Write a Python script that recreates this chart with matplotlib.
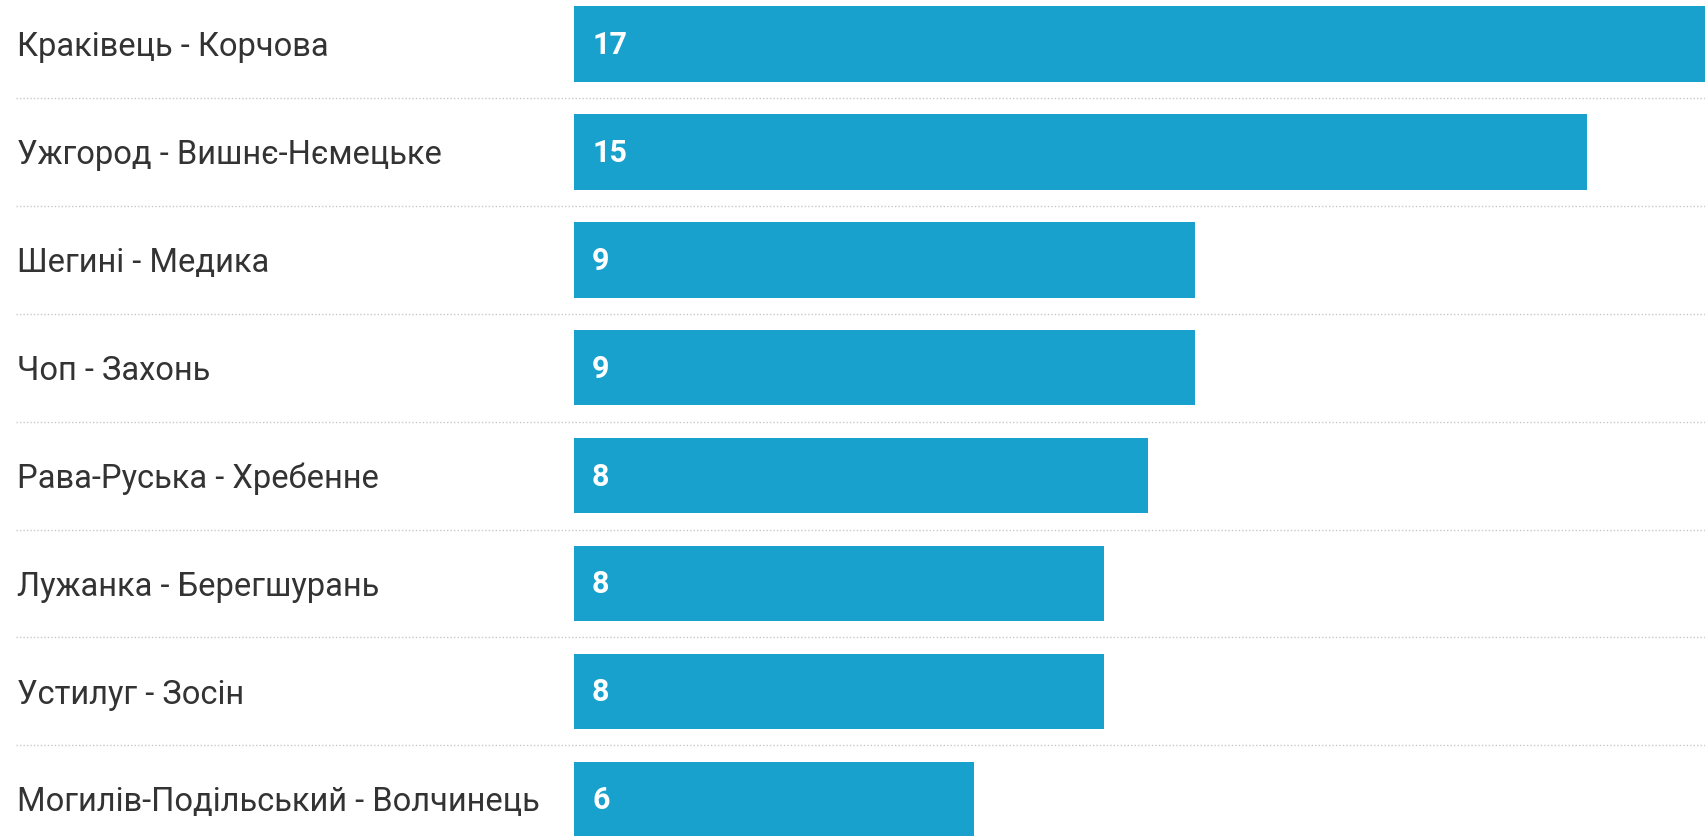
import matplotlib.pyplot as plt

# border crossings and their values (bar length, shown label)
crossings = [
    "Краківець - Корчова",
    "Ужгород - Вишнє-Нємецьке",
    "Шегині - Медика",
    "Чоп - Захонь",
    "Рава-Руська - Хребенне",
    "Лужанка - Берегшурань",
    "Устилуг - Зосін",
    "Могилів-Подільський - Волчинець",
]
values = [17.0, 15.0, 9.2, 9.2, 8.5, 7.85, 7.85, 5.93]
value_labels = ["17", "15", "9", "9", "8", "8", "8", "6"]

bar_color = "#19a1cd"
text_color = "#333333"

plt.rcParams['font.family'] = ['Roboto', 'DejaVu Sans']

fig = plt.figure(figsize=(17.06, 8.37), dpi=100)
# axes start where the bars start (x=574 px), run to the right edge
ax = fig.add_axes([574 / 1706, 0, 1 - 574 / 1706, 1])

rows = list(range(len(crossings)))
ax.barh(rows, values, height=0.70, color=bar_color, zorder=2)

# row pitch ~108 px, first bar centre at 45 px from top
pitch = 107.9
ax.set_ylim((837 - 45) / pitch, -45 / pitch)
ax.set_xlim(0, 1132 / 67.5)
ax.axis("off")

ytrans = ax.get_yaxis_transform()
x_label = (17 - 574) / 1132
x_sep = (16 - 574) / 1132

for i, name in enumerate(crossings):
    ax.text(x_label, i + 0.02, name, transform=ytrans, ha="left", va="center",
            fontsize=23.5, color=text_color, clip_on=False)
    ax.annotate(value_labels[i], xy=(0, i), xytext=(13, 0), textcoords="offset points",
                ha="left", va="center", fontsize=22, color="white",
                fontweight="bold", zorder=3)

# dotted separators between rows
for i in range(len(crossings) - 1):
    ax.plot([x_sep, 1], [i + 0.5, i + 0.5], transform=ytrans, color="#c8c8c8",
            linestyle=(0, (1, 1.5)), linewidth=1, clip_on=False, zorder=1)

fig.savefig("out.png", dpi=100)
